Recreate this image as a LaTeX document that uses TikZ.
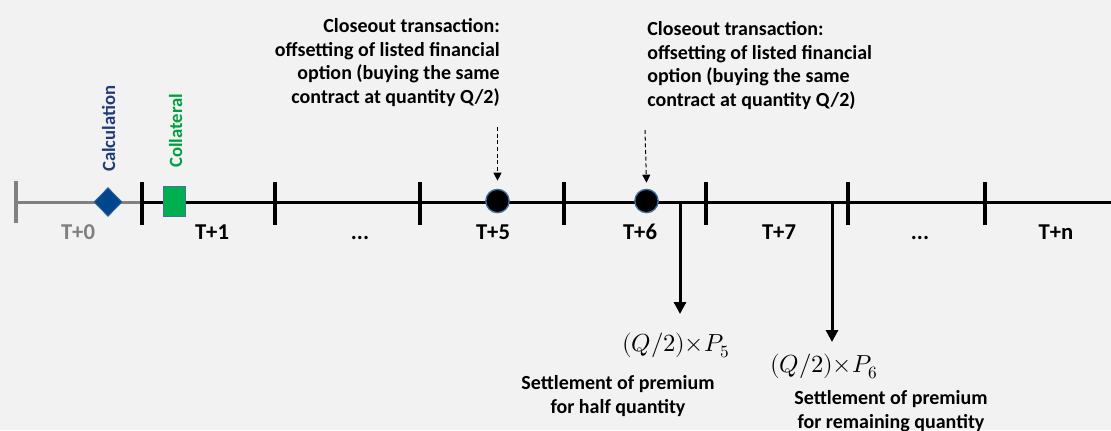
\documentclass[tikz,border=0pt]{standalone}
\usepackage{fontspec}
\usepackage{unicode-math}
\setmainfont{Carlito}
\setmathfont{Latin Modern Math}
\usetikzlibrary{arrows.meta,shapes.geometric}
\definecolor{bg}{HTML}{F2F2F2}
\definecolor{axisgray}{HTML}{808080}
\definecolor{calcblue}{HTML}{1F3C78}
\definecolor{diamblue}{HTML}{00468C}
\definecolor{diamedge}{HTML}{2E5F9A}
\definecolor{colgreen}{HTML}{00A040}
\definecolor{sqgreen}{HTML}{00B050}
\definecolor{sqedge}{HTML}{41719C}
\definecolor{circedge}{HTML}{3C6E9E}
\tikzset{
  tlabel/.style={font=\bfseries\fontsize{17}{20}\selectfont, inner sep=0, anchor=base},
  blk/.style={font=\bfseries\fontsize{15}{17.8}\selectfont, inner sep=0},
  vlab/.style={font=\bfseries\fontsize{14}{16}\selectfont, inner sep=0, rotate=90, anchor=base west},
  mathlab/.style={font=\fontsize{18.5}{22}\selectfont, inner sep=0},
  axisline/.style={line width=2.25pt},
  tickline/.style={line width=2.6pt},
  dot/.style={circle, fill=black, draw=circedge, line width=1pt, minimum size=17.5pt, inner sep=0},
  dasharr/.style={densely dashed, line width=0.75pt, -{Triangle[width=6pt,length=6pt]}},
  payarr/.style={line width=2.25pt, -{Triangle[width=9pt,length=9pt]}},
}
\begin{document}
\begin{tikzpicture}[x=0.75pt,y=-0.75pt]
\fill[bg] (0,0) rectangle (1111,430);
\useasboundingbox (0,0) rectangle (1111,430);

% timeline
\draw[axisline, axisgray] (16,202) -- (142,202);
\draw[axisline] (142,202) -- (1111,202);
\draw[tickline, axisgray] (16,181) -- (16,223);
\foreach \x in {142,275,420,564,706,848,985}
  \draw[tickline] (\x,182) -- (\x,225);

% period labels
\node[tlabel, text=axisgray] (t0) at (78,239) {T+0};
\node[tlabel] (t1) at (212,239) {T+1};
\node[tlabel] (d1) at (360,239) {...};
\node[tlabel] (t5) at (493,239) {T+5};
\node[tlabel] (t6) at (640,239) {T+6};
\node[tlabel] (t7) at (779,239) {T+7};
\node[tlabel] (d2) at (920,239) {...};
\node[tlabel] (tn) at (1056,239) {T+n};

% calculation and collateral
\node[diamond, fill=diamblue, draw=diamedge, line width=0.75pt, inner sep=0,
      minimum width=21pt, minimum height=21.5pt] (calc) at (108,202) {};
\node[vlab, text=calcblue] (calctext) at (115,172) {Calculation};
\node[rectangle, fill=sqgreen, draw=sqedge, line width=0.9pt, inner sep=0,
      minimum width=16pt, minimum height=23pt] (coll) at (174.5,201.5) {};
\node[vlab, text=colgreen] (colltext) at (182,168) {Collateral};

% closeout events
\node[dot] (c5) at (497.5,201) {};
\node[dot] (c6) at (646.5,201) {};
\node[blk, align=right, anchor=north east] (txt5) at (500,18)
  {Closeout transaction:\\offsetting of listed financial\\option (buying the same\\contract at quantity Q/2)};
\node[blk, align=left, anchor=north west] (txt6) at (647,21)
  {Closeout transaction:\\offsetting of listed financial\\option (buying the same\\contract at quantity Q/2)};
\coordinate (a5) at (497.5,127);
\coordinate (a6) at (645,130);
\draw[dasharr] (a5) -- ([yshift=6pt]c5.north);
\draw[dasharr] (a6) -- ([yshift=4.5pt]c6.north);

% settlements
\coordinate (s1) at (680,202);
\coordinate (e1) at (680,314);
\coordinate (s2) at (832,202);
\coordinate (e2) at (832,342);
\draw[payarr] (s1) -- (e1);
\draw[payarr] (s2) -- (e2);
\node[mathlab] (m1) at (676,345) {$(Q/2)\mkern-1mu{\times}\mkern1mu P_5$};
\node[mathlab] (m2) at (824,366) {$(Q/2)\mkern-1mu{\times}\mkern1mu P_6$};
\node[blk, align=center, anchor=base] (st1) at (618,413)
  {Settlement of premium\\for half quantity};
\node[blk, align=center, anchor=base] (st2) at (891,428)
  {Settlement of premium\\for remaining quantity};
\end{tikzpicture}
\end{document}
